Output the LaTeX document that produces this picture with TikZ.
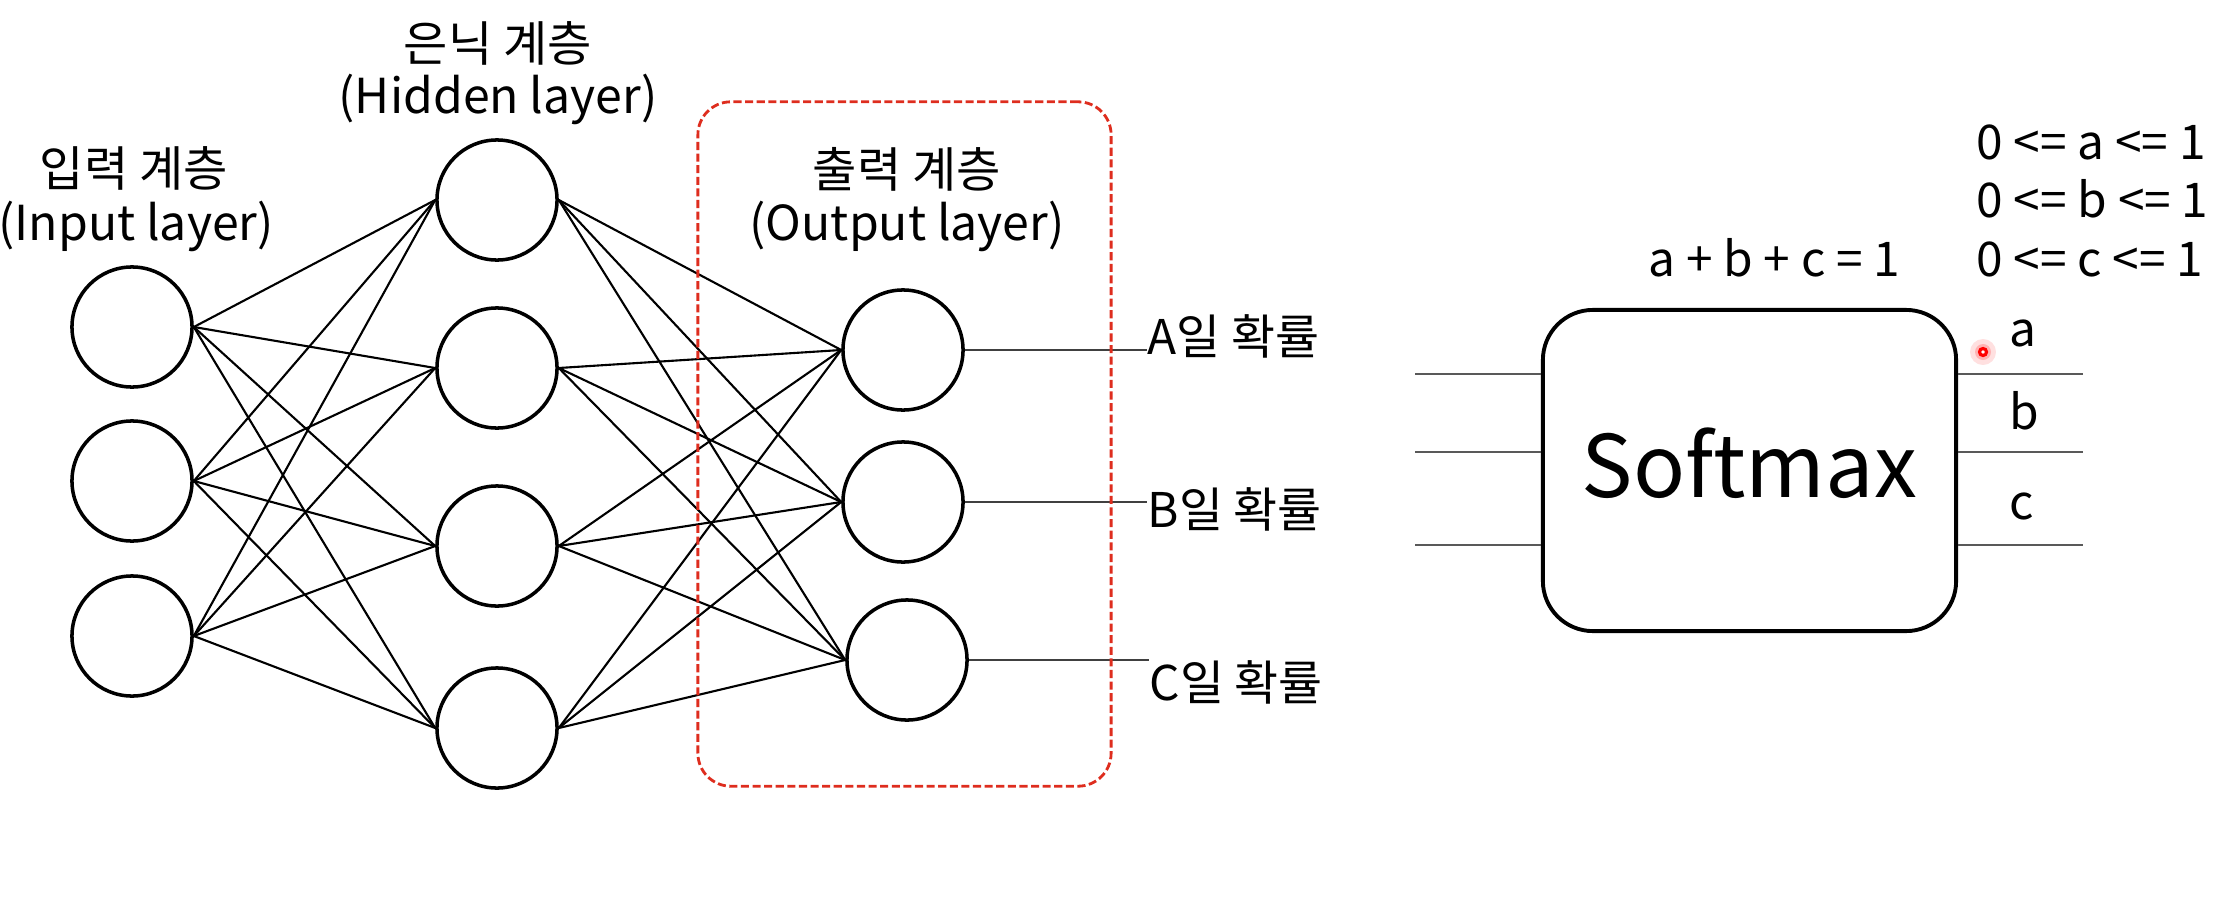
\documentclass[tikz,border=0pt]{standalone}
\usepackage{fontspec}
\setmainfont{Noto Sans CJK KR}
\definecolor{boxred}{RGB}{222,45,30}
\begin{document}
\begin{tikzpicture}[x=0.01cm,y=-0.01cm,
  neuron/.style={circle, draw, line width=1pt, minimum size=1.2cm, inner sep=0pt},
  wire/.style={line width=0.6pt},
  outwire/.style={line width=0.5pt, black!75},
  smwire/.style={line width=0.55pt, black!65},
  hdr/.style={font=\fontsize{13.7}{17}\selectfont, inner sep=0pt, anchor=base},
  lbl/.style={font=\fontsize{13.6}{17}\selectfont, inner sep=0pt, anchor=base west},
  eq/.style={font=\fontsize{13.6}{17}\selectfont, inner sep=0pt, anchor=base west}]
\useasboundingbox (0,0) rectangle (2230,897);

% headers
\node[hdr] (hin1) at (134,186) {입력 계층};
\node[hdr] (hin2) at (136,240) {(Input layer)};
\node[hdr] (hhid1) at (498,61) {은닉 계층};
\node[hdr] (hhid2) at (498,113) {(Hidden layer)};
\node[hdr] (hout1) at (907,187) {출력 계층};
\node[hdr] (hout2) at (907,240) {(Output layer)};

% neurons
\node[neuron] (i1) at (132,327) {};
\node[neuron] (i2) at (132,481) {};
\node[neuron] (i3) at (132,636) {};
\node[neuron] (h1) at (497,200) {};
\node[neuron] (h2) at (497,368) {};
\node[neuron] (h3) at (497,546) {};
\node[neuron] (h4) at (497,728) {};
\node[neuron] (o1) at (903,350) {};
\node[neuron] (o2) at (903,502) {};
\node[neuron] (o3) at (907,660) {};

\foreach \i in {1,2,3}
  \foreach \h in {1,2,3,4}
    \draw[wire] (i\i.east) -- (h\h.west);
\foreach \h in {1,2,3,4}
  \foreach \o in {1,2,3}
    \draw[wire] (h\h.east) -- (o\o.west);

% output labels
\node[lbl] (pa) at (1147,354) {A일 확률};
\node[lbl] (pb) at (1147,527) {B일 확률};
\node[lbl] (pc) at (1149,700) {C일 확률};
\draw[outwire] (o1.east) -- (o1.east -| pa.west);
\draw[outwire] (o2.east) -- (o2.east -| pb.west);
\draw[outwire] (o3.east) -- (o3.east -| pc.west);

% output layer highlight
\node[draw=boxred, line width=0.8pt, dash pattern=on 2.3pt off 1pt,
      rounded corners=0.33cm, minimum width=4.13cm, minimum height=6.84cm,
      inner sep=0pt] (outbox) at (904.5,444) {};

% softmax block
\node[draw, line width=1.1pt, rounded corners=0.5cm, minimum width=4.13cm,
      minimum height=3.21cm, inner sep=0pt, text depth=0.15cm,
      font=\fontsize{24.5}{30}\selectfont] (sm) at (1749.5,470.5) {Softmax};
\coordinate (in1) at (1415,374);
\coordinate (in2) at (1415,452);
\coordinate (in3) at (1415,545);
\coordinate (out1) at (2083,374);
\coordinate (out2) at (2083,452);
\coordinate (out3) at (2083,545);
\foreach \k in {1,2,3} {
  \draw[smwire] (in\k) -- (in\k -| sm.west);
  \draw[smwire] (out\k -| sm.east) -- (out\k);
}
\node[eq] (la) at (2009,346) {a};
\node[eq] (lb) at (2009,429) {b};
\node[eq] (lc) at (2009,519) {c};

\node[eq] (sum) at (1648,276) {a + b + c = 1};
\node[eq] (ca) at (1976,159) {0 <= a <= 1};
\node[eq] (cb) at (1976,217) {0 <= b <= 1};
\node[eq] (cc) at (1976,276) {0 <= c <= 1};

% pointer mark
\fill[red, opacity=0.12] (1983,352) circle (0.13cm);
\fill[red, opacity=0.2] (1983,352) circle (0.08cm);
\draw[red, line width=0.9pt, fill=white] (1983,352) circle (0.035cm);
\end{tikzpicture}
\end{document}
